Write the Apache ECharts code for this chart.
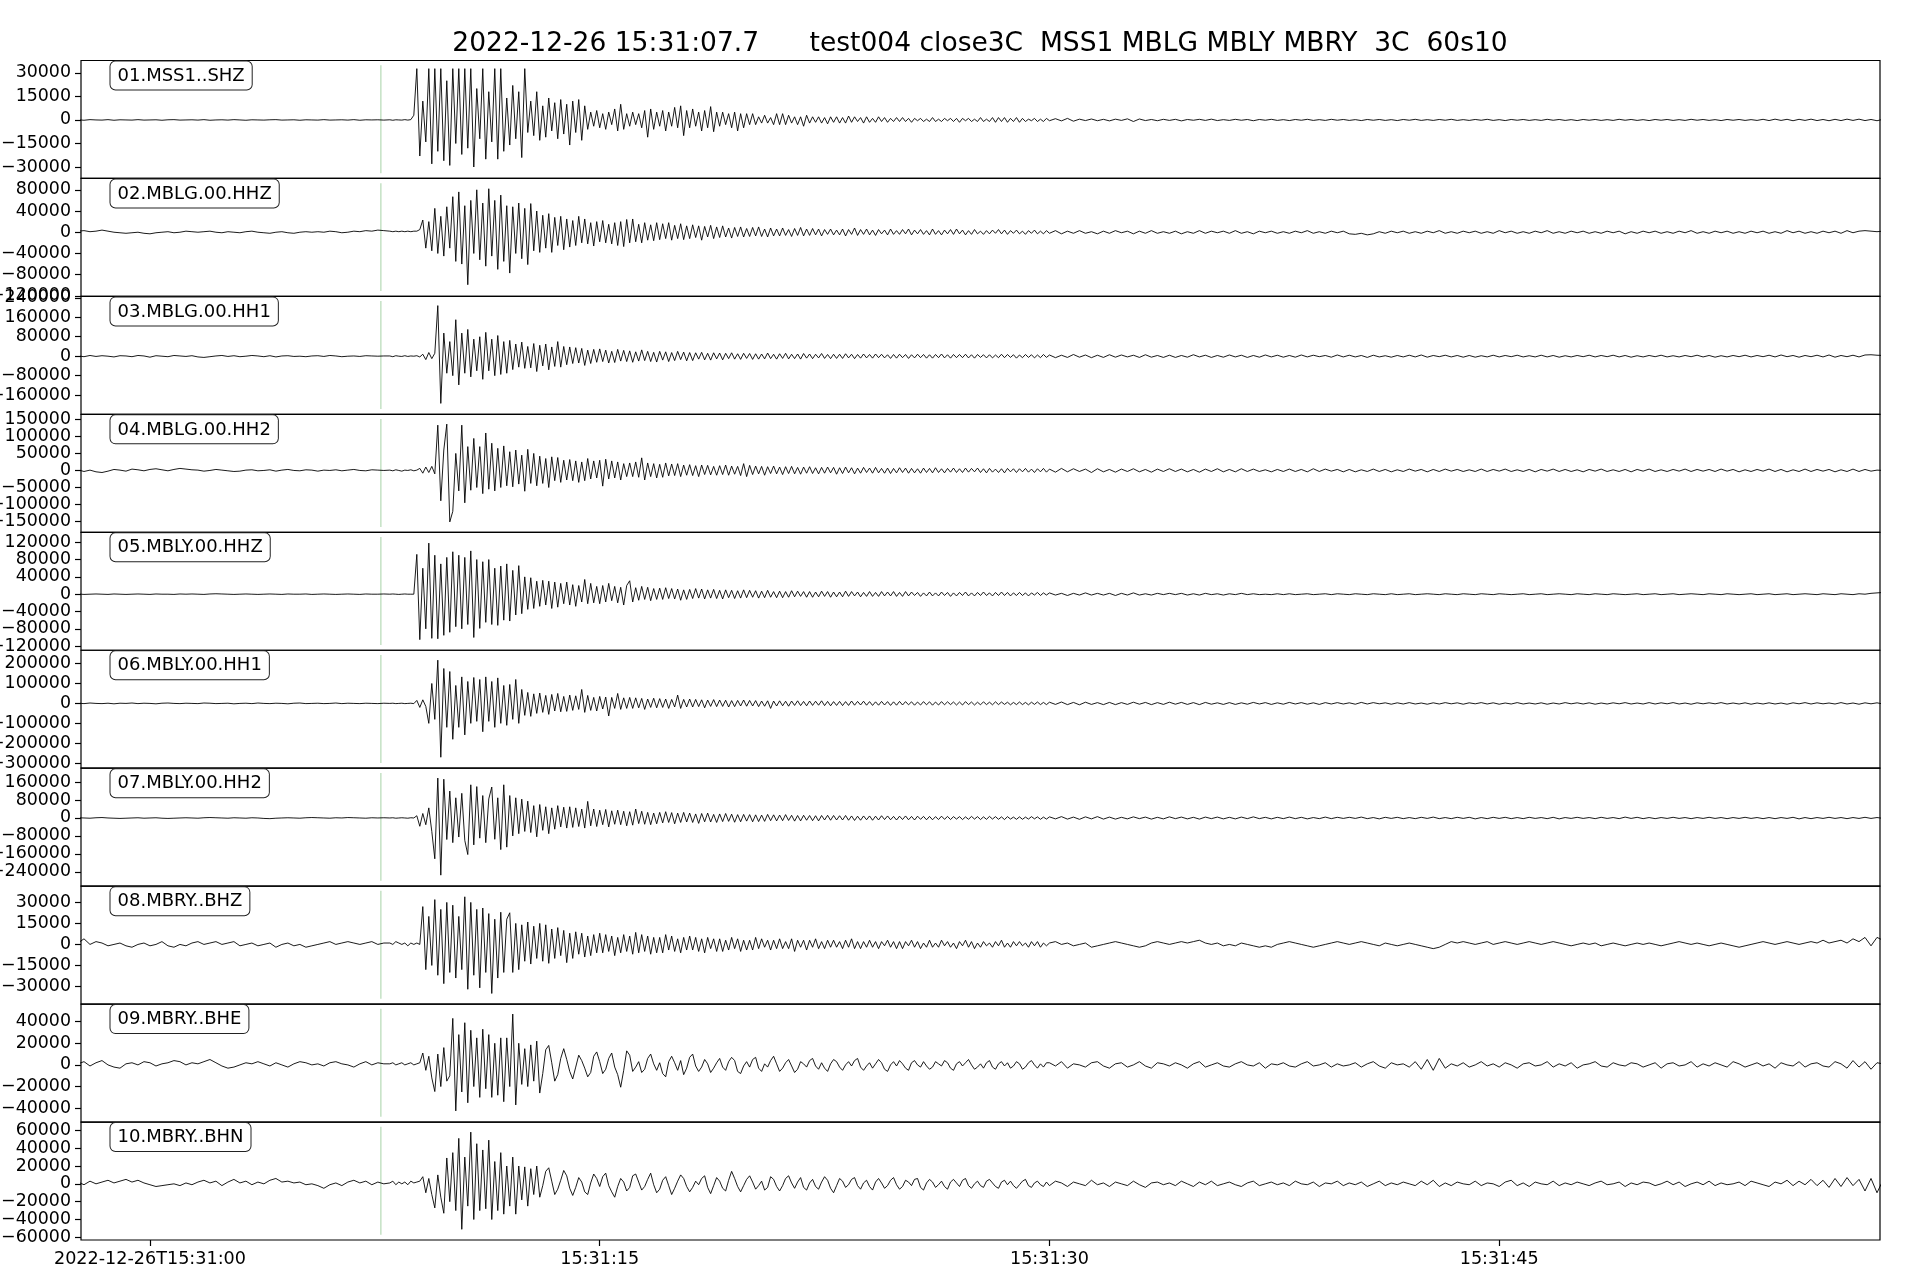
<!DOCTYPE html>
<html>
<head>
<meta charset="utf-8">
<script src="https://cdn.jsdelivr.net/npm/echarts@6/dist/echarts.min.js"></script>
<style>
html,body{margin:0;padding:0;background:#fff;}
#chart{width:1920px;height:1280px;}
</style>
</head>
<body>
<div id="chart"></div>
<script>
// ---------------- text ----------------
const titleText = '2022-12-26 15:31:07.7      test004 close3C  MSS1 MBLG MBLY MBRY  3C  60s10';
const stationLabels = ['01.MSS1..SHZ','02.MBLG.00.HHZ','03.MBLG.00.HH1','04.MBLG.00.HH2','05.MBLY.00.HHZ',
  '06.MBLY.00.HH1','07.MBLY.00.HH2','08.MBRY..BHZ','09.MBRY..BHE','10.MBRY..BHN'];
// time axis in seconds after 2022-12-26T15:31:00
const timeTickValues = [0, 15, 30, 45];
const timeTickLabels = ['2022-12-26T15:31:00', '15:31:15', '15:31:30', '15:31:45'];
const windowStart = -2.3;   // 15:30:57.7
const windowEnd = 57.7;     // 15:31:57.7
const pickTime = 7.7;       // 15:31:07.7
// amplitude axes (counts)
const yMin = [-37300, -121000, -239000, -181500, -129500, -325000, -304000, -42600, -52800, -63000];
const yMax = [37900, 101400, 245800, 164700, 143000, 266700, 222000, 41600, 56200, 69300];
const yTicks = [
  [-30000, -15000, 0, 15000, 30000],
  [-120000, -80000, -40000, 0, 40000, 80000],
  [-160000, -80000, 0, 80000, 160000, 240000],
  [-150000, -100000, -50000, 0, 50000, 100000, 150000],
  [-120000, -80000, -40000, 0, 40000, 80000, 120000],
  [-300000, -200000, -100000, 0, 100000, 200000],
  [-240000, -160000, -80000, 0, 80000, 160000],
  [-30000, -15000, 0, 15000, 30000],
  [-40000, -20000, 0, 20000, 40000],
  [-60000, -40000, -20000, 0, 20000, 40000, 60000]
];
// sampling of the read-off traces: pre-event (0.2 s), main (0.1 s), coda (0.2 s)
const preStart = -2.4, preDt = 0.2;
const mainStart = 8.0, mainDt = 0.1;
const codaStart = 30.0, codaDt = 0.2;

// ---------------- traces (values in thousands of counts) ----------------
// 01 MSS1..SHZ
const tr01Pre = [
0.1,-0.2,0.2,0,-0.1,0.2,-0.2,0.1,0,-0.1,
0.2,-0.1,0,0.1,-0.2,0.1,0.2,-0.1,0,0.1,
-0.1,0.2,-0.2,0,0.1,-0.1,0.2,0,-0.2,0.1,
0,-0.1,0.1,0.2,-0.1,0,0.1,-0.2,0.1,0,
-0.1,0.2,-0.1,0,0.1,-0.1,0.2,-0.2,0.1,0,
0.1,-0.1];
const tr01Main = [
0.1,-0.2,0.1,0,-0.1,0.2,-0.1,0.2,3,32.7,
-23,12,-14,32.7,-28,32.7,-20,32.7,-26,25,
-29,32.7,-15,32.7,-22,32.7,-18,32.7,-30,20,
-12,32.7,-25,18,-14,32.7,-25,32.7,-20,14,
-16,22,-12,18,-24,32.7,-8,12,-10,18,
-13,9,-11,14,-7,11,-12,13,-9,10,
-16,12,-8,13,-13,9,-6,5,-4,6,
-5,4,-6,5,-3,7,-7,10,-6,4,
-4,5,-3,4,-5,6,-11,7,-6,5,
-4,6,-7,5,-4,8,-5,9,-10,6,
-5,7,-4,5,-7,6,-5,8.5,-7.5,5,
-4,5,-3,4,-5,5,-7,4,-5,4,
-3,4,-3,2,-2,3,-2,1.5,-3,4,
-3,4,-3,3,-2,2,-3,2,-4,3,
-2,2,-1.5,2,-2,1.5,-2.5,2,-1.5,2,
-2,1.5,-2,2.5,-1.5,2,-1,1.5,-2,2,
-1.5,1,-1.5,2,-1,1.5,-1.5,1,-1,1.5,
-1,1.5,-1,1,-1.5,1,-0.5,1,-1,0.5,
-1,1.5,-1,0.5,-1,1,-0.5,1,-1,1,
-1.5,1,-0.5,1,-1,0.5,-1,1.5,-1,0.5,
-1,1.5,-1.5,1.5,-1,1.5,-1.5,1,-1,1.5,
-1.5,1,-1,0.5,-0.5,1,-1,0.5,-1,1];
const tr01Coda = [
-0.5,0.8,-0.6,1,-0.8,0.5,-0.4,0.6,-0.5,0.4,
-0.6,0.5,-0.3,0.7,-1,0.6,-0.4,0.3,-0.5,0.4,
-0.3,0.4,-0.6,0.3,-0.2,0.4,-0.3,0.5,-0.4,0.2,
-0.3,0.4,-0.2,0.3,-0.5,0.3,-0.2,0.4,-0.3,0.2,
-0.4,0.3,-0.2,0.4,-0.3,0.2,-0.3,0.4,-0.2,0.3,
-0.3,0.2,-0.4,0.3,-0.2,0.3,-0.3,0.2,-0.4,0.3,
-0.2,0.4,-0.3,0.2,-0.3,0.3,-0.2,0.4,-0.3,0.2,
-0.3,0.3,-0.2,0.4,-0.3,0.2,-0.4,0.3,-0.2,0.3,
-0.3,0.2,-0.3,0.4,-0.2,0.3,-0.3,0.2,-0.4,0.3,
-0.2,0.3,-0.3,0.2,-0.3,0.4,-0.2,0.3,-0.3,0.2,
-0.4,0.3,-0.2,0.3,-0.3,0.2,-0.3,0.4,-0.2,0.3,
-0.3,0.2,-0.4,0.3,-0.2,0.3,-0.3,0.2,-0.3,0.4,
-0.4,0.5,-0.3,0.4,-0.5,0.4,-0.3,0.5,-0.4,0.3,
-0.5,0.4,-0.4,0.5,-0.3,0.5,-0.4,0.3,-0.5,0.4];

// 02 MBLG.00.HHZ
const tr02Pre = [
2,3,1,2,4,2,0,-1,-2,-1,
0,-2,-3,-1,0,1,-1,0,2,1,
0,1,2,0,-1,1,0,-1,1,2,
0,-1,-2,0,1,-1,-2,0,1,0,
1,0,2,1,-1,0,2,1,3,2,
4,3];
const tr02Main = [
2,1,2,1,2,1,2,1,2,2,
5,23,-30,20,-35,45,-40,30,-45,48,
-30,67,-55,76,-60,50,-99,60,-40,80,
-52,55,-64,82,-45,60,-70,70,-55,50,
-77,48,-40,55,-50,45,-61,54,-35,40,
-38,32,-30,35,-38,28,-25,30,-33,25,
-28,22,-25,30,-20,25,-22,18,-26,20,
-18,22,-20,15,-22,18,-25,20,-27,24,
-20,25,-18,15,-20,18,-15,14,-16,18,
-14,16,-12,18,-15,13,-12,16,-14,12,
-12,14,-10,12,-15,11,-9,13,-12,10,
-10,12,-9,8,-11,9,-8,10,-9,7,
-8,9,-7,10,-8,6,-9,8,-7,6,
-7,8,-6,5,-8,7,-6,9,-7,6,
-6,7,-5,6,-7,5,-4,6,-5,4,
-5,6,-7,5,-4,8,-6,5,-4,6,
-5,4,-6,5,-3,4,-5,6,-4,3,
-4,5,-3,6,-5,4,-3,5,-4,3,
-5,6,-4,3,-5,4,-3,5,-4,6,
-3,4,-5,3,-4,5,-3,2,-4,3,
-3,4,-2,5,-3,4,-4,3,-2,4,
-3,2,-4,3,-2,4,-3,2,-3,3];
const tr02Coda = [
-2,3,-3,2,-2,3,-2,1,-3,2,
-2,3,-1,2,-3,2,-2,3,-2,1,
-2,2,-3,1,-2,3,-2,2,-1,2,
-2,3,-2,1,-3,2,-1,2,-2,1,
-2,2,-1,3,-2,1,-2,2,-1,2,
-3,-4,-2,-5,-3,1,-2,2,-1,2,
-2,1,-2,2,-1,3,-2,1,-2,2,
-1,2,-2,1,-2,3,-1,2,-2,1,
-2,2,-1,3,-2,1,-2,2,-1,2,
-2,1,-2,2,-1,2,-3,1,-2,2,
-1,2,-2,1,-2,2,-1,3,-2,1,
-2,2,-1,2,-2,1,-2,2,-1,2,
-2,1,-2,3,-1,2,-2,1,-2,2,
-1,2,-2,3,-1,2,3,2,1,2];

// 03 MBLG.00.HH1
const tr03Pre = [
1,-2,3,-1,2,0,-3,2,1,-2,
3,1,-4,2,0,-2,3,1,-1,2,
-3,-5,-2,1,3,-1,2,-2,0,3,
1,-2,2,-3,1,2,-1,0,-2,1,
2,-1,3,1,-2,0,1,-1,2,1,
0,1];
const tr03Main = [
1,-2,2,0,-1,2,-1,1,0,2,
-3,8,-14,15,-10,12,208,-194,95,-70,
60,-80,150,-118,95,-70,110,-85,70,-60,
80,-95,98,-60,70,-80,85,-75,60,-70,
65,-55,50,-45,58,-50,40,-48,52,-63,
45,-40,50,-56,38,-42,60,-45,40,-35,
38,-30,35,-28,32,-38,25,-30,28,-25,
30,-22,25,-28,20,-26,28,-20,24,-22,
22,-25,18,-20,26,-18,20,-22,16,-24,
20,-16,18,-22,15,-18,20,-14,17,-19,
15,-18,14,-12,16,-15,12,-16,14,-11,
13,-15,12,-10,14,-12,10,-13,12,-9,
11,-13,10,-12,9,-11,13,-10,8,-12,
10,-9,12,-11,8,-10,9,-12,11,-8,
9,-10,8,-7,11,-9,7,-10,8,-9,
8,-9,10,-7,8,-10,7,-8,9,-7,
7,-8,9,-6,8,-7,6,-9,7,-8,
8,-6,7,-9,6,-7,8,-6,7,-8,
6,-8,7,-6,9,-7,6,-8,7,-6,
7,-6,8,-7,6,-8,7,-5,6,-7,
6,-7,5,-6,8,-6,7,-5,6,-8,
5,-6,7,-5,6,-7,5,-6,7,-5];
const tr03Coda = [
5,-6,4,-5,7,-4,5,-6,4,-5,
6,-4,5,-3,4,-5,6,-4,3,-5,
4,-5,3,-4,6,-3,4,-5,3,-4,
5,-3,4,-5,3,-4,5,-3,4,-4,
3,-4,5,-3,4,-2,3,-4,5,-3,
4,-3,3,-5,4,-3,2,-4,3,-3,
4,-3,5,-4,3,-2,4,-3,3,-4,
3,-4,2,-3,4,-3,3,-2,4,-3,
2,-3,4,-3,3,-4,2,-3,3,-2,
4,-3,3,-2,4,-3,3,-4,2,-3,
3,-2,4,-3,2,-3,3,-2,4,-3,
3,-4,2,-3,3,-2,4,-3,3,-2,
4,-3,5,-2,3,-4,3,-2,4,-3,
5,-4,3,-2,4,-3,5,6,4,3];

// 04 MBLG.00.HH2
const tr04Pre = [
2,-3,1,-4,-6,-2,3,1,-2,4,
2,-1,3,5,2,-1,3,6,4,2,
1,-2,0,3,1,-1,-3,-2,1,2,
-1,0,2,-2,1,3,0,-1,2,1,
-2,1,0,2,-1,1,3,0,-1,2,
1,0];
const tr04Main = [
1,-1,2,0,-2,1,0,2,-1,1,
6,-8,10,-6,12,-10,133,-89,60,136,
-151,-120,50,-60,133,-95,70,-58,94,-50,
70,-68,110,-55,80,-60,65,-50,72,-45,
55,-48,60,-40,45,-61,62,-38,50,-45,
42,-38,35,-50,40,-30,38,-35,30,-28,
32,-30,28,-35,25,-30,35,-25,28,-22,
30,-46,33,-25,28,-22,25,-28,20,-18,
22,-18,25,-20,37,-28,22,-18,20,-22,
18,-20,22,-16,19,-15,20,-18,16,-14,
17,-15,14,-18,16,-12,15,-13,12,-14,
14,-12,16,-14,13,-11,12,-15,20,-18,
15,-12,13,-10,12,-14,11,-9,13,-10,
10,-12,11,-9,12,-10,9,-11,10,-8,
11,-9,8,-10,9,-8,10,-7,9,-11,
8,-9,10,-7,8,-10,7,-8,9,-6,
7,-8,9,-7,6,-8,7,-9,6,-7,
8,-6,7,-8,6,-7,5,-8,7,-6,
6,-7,8,-6,5,-7,6,-5,7,-6,
5,-6,7,-5,6,-4,7,-6,5,-7,
6,-5,4,-6,5,-7,6,-4,5,-6,
5,-4,6,-5,4,-6,5,-4,6,-5];
const tr04Coda = [
4,-5,6,-4,5,-3,4,-6,5,-4,
3,-5,4,-3,5,-4,3,-5,4,-3,
5,-3,4,-4,3,-5,4,-3,5,-4,
3,-4,5,-3,4,-3,2,-4,3,-3,
4,-3,3,-4,5,-3,4,-2,3,-4,
3,-4,2,-3,4,-3,3,-4,2,-3,
4,-2,3,-4,3,-3,4,-2,3,-3,
2,-3,4,-3,3,-2,4,-3,2,-3,
3,-4,3,-2,4,-3,3,-3,2,-4,
3,-2,4,-3,2,-3,3,-4,3,-2,
4,-3,2,-3,3,-2,4,-3,3,-2,
3,-3,4,-2,3,-4,2,-3,3,-2,
4,-3,3,-4,2,-3,4,-3,3,-2,
3,-4,2,-3,4,-3,3,-2,1,0];

// 05 MBLY.00.HHZ
const tr05Pre = [
0.5,-0.5,0,0.5,0,-0.5,0.5,0,-0.5,0,
0.5,0,-0.5,0.5,0,0,-0.5,0.5,0,0.5,
0,-0.5,0.5,1,0.5,0,-0.5,0,0.5,0,
-0.5,0,0.5,0,-0.5,0.5,0,0,0.5,-0.5,
0,0.5,0,-0.5,0,0.5,0,-0.5,0.5,0,
0,0.5];
const tr05Main = [
0,0.5,0,-0.5,0,0.5,0,0,0,92,
-105,60,-80,118,-102,90,-103,70,-95,85,
-88,98,-75,90,-80,85,-70,100,-100,80,
-79,75,-65,80,-70,60,-72,65,-60,70,
-62,55,-48,66,-45,40,-35,38,-33,30,
-28,32,-25,30,-33,28,-30,25,-22,28,
-25,22,-28,20,-18,34,-22,25,-20,18,
-22,20,-18,25,-15,18,-20,16,-25,20,
31,-18,15,-14,18,-12,16,-15,13,-12,
14,-12,15,-10,13,-11,12,-14,10,-12,
11,-10,13,-9,12,-11,10,-9,11,-10,
9,-11,10,-8,9,-10,8,-9,10,-8,
9,-7,8,-9,7,-8,9,-7,6,-8,
7,-8,6,-7,8,-6,7,-5,6,-7,
6,-7,5,-6,7,-5,6,-7,5,-6,
5,-6,7,-5,6,-4,5,-6,4,-5,
6,-5,4,-5,6,-4,5,-4,6,-5,
4,-5,6,-4,5,-3,4,-5,3,-4,
5,-4,3,-4,5,-3,4,-5,3,-4,
4,-3,5,-4,3,-4,4,-3,5,-3,
3,-4,4,-3,5,-3,4,-4,3,-3,
4,-3,3,-4,3,-2,4,-3,3,-2];
const tr05Coda = [
3,-2,2,-3,2,-2,3,-2,2,-2,
2,-3,2,-2,3,-2,1,-2,2,-1,
2,-1,2,-2,1,-2,2,-1,1,-2,
1,-1,2,-1,1,-1,0,-1,1,-1,
1,-1,0,1,-1,0,1,-1,1,0,
-1,1,0,-1,1,0,-1,1,-1,0,
1,-1,0,1,0,-1,1,0,-1,1,
0,-1,1,0,-1,1,0,-1,0,1,
-1,0,1,-1,0,1,0,-1,1,0,
-1,1,0,-1,1,0,-1,0,1,-1,
0,1,-1,0,1,-1,0,1,0,-1,
1,0,-1,1,0,-1,0,1,-1,0,
1,-1,0,1,-1,0,1,0,-1,1,
0,-1,1,0,-1,1,0,2,3,4];

// 06 MBLY.00.HH1
const tr06Pre = [
1,-1,2,0,-1,1,-2,1,0,2,
-1,1,0,-2,1,2,0,-1,1,0,
-1,2,1,-1,0,1,-2,0,1,-1,
2,0,-1,1,0,-2,1,2,-1,0,
1,-1,0,2,-1,1,0,-1,1,0,
-1,1];
const tr06Main = [
0,1,-1,0,1,-1,0,1,-1,15,
-20,18,-15,-100,100,-80,217,-270,175,-120,
160,-180,90,-120,133,-158,110,-100,130,-90,
120,-142,133,-90,110,-120,128,-100,90,-110,
95,-80,120,-100,70,-60,55,-65,48,-50,
52,-45,40,-55,45,-38,50,-42,35,-40,
42,-35,38,-30,70,-45,40,-35,30,-38,
35,-28,32,-63,30,-25,50,-30,28,-25,
30,-25,28,-22,25,-30,22,-20,26,-22,
24,-20,22,-25,20,-18,42,-25,20,-18,
22,-18,20,-16,18,-22,17,-15,19,-16,
17,-15,16,-18,14,-16,15,-13,17,-14,
15,-13,14,-16,12,-14,13,-25,12,-13,
13,-12,11,-14,12,-10,13,-11,10,-12,
12,-10,11,-9,13,-11,10,-12,9,-10,
10,-11,9,-10,12,-9,10,-8,11,-9,
9,-10,8,-9,10,-8,9,-10,8,-9,
10,-8,9,-7,8,-9,7,-8,9,-7,
8,-9,7,-8,9,-7,8,-6,7,-8,
7,-8,9,-6,7,-8,6,-7,8,-6,
6,-7,8,-6,7,-5,6,-7,5,-6,
7,-6,5,-7,6,-5,7,-6,5,-6];
const tr06Coda = [
6,-5,7,-6,5,-7,6,-5,4,-6,
5,-6,4,-5,6,-4,5,-6,4,-5,
6,-4,5,-5,4,-6,5,-4,3,-5,
4,-5,3,-4,5,-3,4,-5,3,-4,
5,-3,4,-4,3,-5,4,-3,4,-3,
3,-4,5,-3,4,-2,3,-4,3,-3,
4,-3,2,-4,3,-3,4,-2,3,-4,
3,-2,4,-3,3,-4,2,-3,4,-3,
2,-3,3,-4,2,-3,4,-2,3,-3,
3,-4,2,-3,3,-2,4,-3,2,-3,
4,-3,3,-2,4,-3,2,-4,3,-2,
3,-2,4,-3,2,-3,3,-4,2,-3,
3,-3,2,-4,3,-2,4,-3,3,-2,
2,-3,4,-3,2,-4,3,-2,3,-3];

// 07 MBLY.00.HH2
const tr07Pre = [
1,0,-1,1,2,0,-1,-2,-1,0,
1,-1,0,1,-1,-2,-1,0,1,0,
-1,1,2,1,0,-1,1,0,-1,1,
0,-2,-3,-1,0,1,0,-1,1,2,
1,0,-1,1,0,2,1,0,-1,1,
0,1];
const tr07Main = [
0,1,-1,0,1,0,-1,1,0,10,
-37,20,-30,45,-60,-182,178,-255,173,-96,
120,-110,90,-85,110,-100,-163,148,-120,140,
-90,100,-110,85,138,-95,90,-141,148,-130,
100,-80,90,-70,84,-60,75,-65,55,-84,
60,-55,50,-70,45,-50,55,-40,48,-45,
50,-42,45,-38,40,-45,74,-35,40,-38,
35,-30,38,-40,32,-28,35,-30,30,-35,
28,-32,40,-25,30,-28,25,-30,22,-26,
25,-22,28,-20,24,-26,22,-20,25,-18,
22,-20,18,-24,20,-17,22,-18,16,-20,
18,-16,20,-15,17,-19,15,-17,16,-14,
15,-17,14,-16,13,-15,16,-12,14,-13,
13,-12,15,-11,12,-14,11,-13,12,-10,
11,-12,10,-13,11,-9,12,-10,11,-9,
10,-9,11,-10,9,-11,8,-10,9,-8,
9,-10,8,-9,10,-7,9,-8,7,-9,
8,-7,9,-8,7,-9,8,-6,7,-8,
7,-8,6,-7,8,-6,7,-7,6,-5,
6,-7,5,-6,7,-5,6,-7,5,-6,
7,-5,6,-6,5,-7,6,-5,4,-6,
5,-6,4,-5,6,-4,5,-6,4,-5];
const tr07Coda = [
5,-4,6,-5,4,-6,5,-4,6,-5,
4,-5,3,-4,5,-3,4,-5,3,-4,
5,-3,4,-4,3,-5,4,-3,4,-4,
3,-4,4,-3,5,-3,3,-4,3,-3,
4,-3,3,-4,2,-3,4,-3,3,-2,
3,-2,4,-3,2,-4,3,-2,3,-3,
2,-3,3,-2,4,-3,2,-3,3,-2,
3,-4,2,-3,3,-2,3,-3,2,-3,
3,-2,2,-3,3,-4,2,-2,3,-2,
2,-3,3,-2,2,-3,4,-2,3,-3,
2,-3,2,-2,3,-2,2,-3,2,-2,
3,-2,2,-3,2,-2,3,-2,2,-3,
2,-3,2,-2,3,-4,2,-3,2,-2,
3,-2,2,-3,2,-2,3,-2,2,-2];

// 08 MBRY..BHZ
const tr08Pre = [
1,4,0,2,1,-1,0,1,-1,-2,
0,1,-1,0,2,-1,-2,0,-1,1,
2,0,1,2,0,1,2,-1,0,1,
-1,0,1,-2,0,1,-1,0,-2,-1,
0,1,2,0,1,2,1,0,1,2,
0,1];
const tr08Main = [
1,0,2,1,0,1,-1,1,0,1,
0,27,-18,20,-15,32,-22,25,-28,30,
-20,28,-24,20,-18,34,-32,30,-22,25,
-31,26,-20,22,-35,18,-24,23,-20,18,
22.6,-20,15,-18,14,-12,16,-14,13,-10,
15,-12,14,-13.5,11,-10,12,-8,10,-13,
8,-10,9,-7,8,-9,6,-8,7,-6,
8,-6,7,-5,6,-8,5,-6,7,-5,
6,-7,8.6,-6,7,-5,6,-7,5,-6,
5,-6,7,-4,6,-5,4,-6,5,-4,
6,-4,5,-5,4,-6,5,-3,4,-5,
4,-5,3,-4,5,-3,4,-5,3,-4,
3,-4,5,-3,4,-2,3,-4,3,-3,
4,-3,2,-3,4,-5,3,-2,3,-4,
3,-2,4,-3,2,-3,3,-2,3,-2,
2,-3,3,-2,4,-3,2,-3,2,-2,
3,-2,2,-3,2,-1,3,-2,2,-3,
2,-3,2,-1,3,-2,2,-3,1,-2,
3,-2,1,-2,3,-1,2,-2,1,-3,
2,-1,3,-2,2,-3,1,-2,2,-1,
1,-2,2,-1,3,-2,1,-2,2,-1,
2,-1,1,-2,2,-1,2,-2,1,-1];
const tr08Coda = [
1,2,0,1,-1,0,1,-2,-1,0,
1,2,1,0,-1,-2,-1,1,2,1,
0,1,2,1,2,3,1,0,1,-1,
0,-1,1,0,-1,-2,-1,-2,0,1,
2,1,0,-1,-2,-1,0,1,2,1,
0,1,2,1,0,-1,1,0,-1,0,
1,0,-1,-2,-3,-2,0,2,1,2,
1,0,1,2,0,1,2,1,0,1,
2,1,0,1,2,1,0,-1,0,1,
0,1,-1,0,1,0,-1,0,1,0,
1,0,-1,0,1,2,1,0,1,0,
-1,0,1,0,-1,-2,-1,0,1,2,
1,0,1,2,1,0,1,2,1,3,
1,2,3,1,4,2,5,-1,5,3];

// 09 MBRY..BHE
const tr09Pre = [
1,3,-1,2,4,0,-2,-3,1,2,
0,3,2,-1,1,2,4,3,0,2,
1,3,5,2,-1,-3,-2,0,2,1,
3,1,-1,2,0,-2,1,3,2,0,
1,-1,2,3,1,0,-2,1,3,0,
2,1];
const tr09Main = [
1,2,0,1,2,0,1,2,0,1,
2,11,-5,8,-12,-24.6,10,-20,16,-15,
-10,43,-42.5,28,-25,39,-35,32,-20,25,
-30,33,-22,28,-30,20,-28,25,-34,25,
-20,47,-37,20,-18,15,-20,18.5,-15,22,
-26,-8,14,18,2,-15,-9,6,15,5,
-6,-13,-2,9,4,-3,-11,-7,8,12,
3,-8,-4,6,11,-2,-9,-20.6,-5,13,
9,-6,-2,3,-7,-4,6,10,1,-5,
2,-8,-11,3,8,2,-5,4,-9,-3,
7,10,-1,-6,-2,5,1,-7,-3,2,
6,-2,-5,3,7,4,-6,-8,-1,3,
-2,5,7,-3,-6,1,-2,4,8,1,
-6,-3,2,5,-1,-7,-4,3,1,-2,
4,6,-1,-4,2,-3,-6,1,5,3,
-2,-5,0,3,-1,4,6,-2,-5,-1,
2,-3,1,5,2,-4,-6,0,3,-1,
4,1,-3,-5,2,4,0,-2,3,-1,
-4,-2,3,1,-1,4,2,-3,-5,1,
3,-1,2,5,0,-4,-2,1,-3,2,
4,-2,-4,1,3,-1,2,-3,-1,3,
1,-4,-2,2,4,0,-3,1,-2,2];
const tr09Coda = [
2,-1,3,-3,1,0,-2,2,3,-1,
-3,1,2,-2,0,3,-1,-3,2,1,
-1,2,0,-3,1,3,-2,0,2,-1,
-2,1,3,0,-1,2,-3,1,0,2,
-1,-2,1,3,-1,0,2,-2,1,-1,
0,2,-2,1,3,-1,-3,2,0,1,
-2,3,-4,5,-5,6,-3,1,-1,2,
-2,0,3,-1,1,-2,2,0,-3,1,
2,-1,0,3,-2,1,-1,2,-3,0,
1,3,-1,-2,2,0,-1,2,1,-2,
0,2,-3,1,2,-1,0,3,-2,1,
-1,2,0,-2,3,1,-2,0,2,-1,
1,-3,2,0,-1,3,-2,1,2,-1,
-2,3,1,-3,4,-2,3,-4,2,1];

// 10 MBRY..BHN
const tr10Pre = [
2,-1,3,0,2,4,1,3,5,2,
4,1,-1,-3,-2,-1,0,-2,1,-1,
2,4,1,3,-2,2,5,1,3,-1,
2,0,4,6,2,3,1,2,-1,0,
-2,-5,-1,1,-2,2,4,1,3,-1,
2,0];
const tr10Main = [
1,3,-1,2,0,2,-1,3,1,2,
3,8,-10,6,-12,-27,10,-15,-33,29,
-20,35,-30,51,-51,30,-25,58,-40,45,
-30,38,-28,49,-40,25,-30,35,-34,20,
-25,30,-34,20,-18,19,-25,17,-12,20,
-15,-2,14,18,3,-12,-6,4,15,9,
-5,-13,-4,7,2,-9,-12,1,11,6,
-3,8,12,-2,-9,-15,-3,6,2,-8,
-4,9,11,2,-7,-3,5,12,-1,-10,
-6,4,8,-2,-12,-5,3,10,6,-3,
-9,-4,3,-1,6,9,-4,-11,-2,7,
3,-5,-8,4,14,6,-3,-9,-2,5,
9,2,-6,-2,3,-7,-4,8,5,-3,
-8,-2,6,9,1,-5,2,7,-4,-7,
1,5,-3,-6,2,8,4,-5,-10,-2,
6,3,-4,-1,5,7,-2,-6,1,4,
-3,-7,2,6,1,-5,-2,4,7,-1,
-6,-3,4,2,-2,5,6,-4,-7,1,
5,2,-4,-1,3,-3,-6,2,5,1,
-3,4,6,-2,-5,0,3,-2,-4,3,
5,1,-3,-5,2,4,-1,3,-2,-5,
-1,3,5,-2,-4,1,3,-1,-3,2];
const tr10Coda = [
-2,3,1,-3,2,0,-2,4,-1,1,
-3,2,0,-2,3,-1,-4,1,2,-1,
1,-2,3,0,-3,2,-1,3,-2,0,
2,-1,-3,1,3,-2,0,2,-1,1,
-2,3,0,-1,2,-3,1,0,3,-2,
1,-1,2,-3,0,3,-2,1,-1,2,
0,-2,3,-1,4,-3,1,-2,2,0,
-1,3,-2,1,0,-3,2,4,-2,1,
-3,2,0,-1,3,-2,1,-1,2,0,
-2,1,3,-1,0,2,-3,1,-1,2,
1,-2,0,3,-1,2,-3,0,2,-1,
3,-2,1,-1,0,2,-2,3,1,-1,
-3,2,0,4,-2,3,-1,5,-2,4,
-4,6,-3,7,-2,5,-8,6,-10,4];

const traceParts = [
  [tr01Pre, tr01Main, tr01Coda], [tr02Pre, tr02Main, tr02Coda], [tr03Pre, tr03Main, tr03Coda],
  [tr04Pre, tr04Main, tr04Coda], [tr05Pre, tr05Main, tr05Coda], [tr06Pre, tr06Main, tr06Coda],
  [tr07Pre, tr07Main, tr07Coda], [tr08Pre, tr08Main, tr08Coda], [tr09Pre, tr09Main, tr09Coda],
  [tr10Pre, tr10Main, tr10Coda]
];

function buildTrace(pre, main, coda) {
  const pts = [];
  pre.forEach((v, i) => { const t = +(preStart + i * preDt).toFixed(3); if (t < mainStart) pts.push([t, v * 1000]); });
  main.forEach((v, i) => { const t = +(mainStart + i * mainDt).toFixed(3); if (t < codaStart) pts.push([t, v * 1000]); });
  coda.forEach((v, i) => { const t = +(codaStart + i * codaDt).toFixed(3); pts.push([t, v * 1000]); });
  return pts;
}

// ---------------- layout ----------------
const FONT = 'DejaVu Sans';
const gridLeft = 81, gridRight = 40, firstTop = 60.5, panelH = 117.95;
const nPanels = stationLabels.length;

const grids = [], xAxes = [], yAxes = [], series = [], graphics = [];
const fmtY = v => (v < 0 ? '\u2212' + String(-v) : String(v));

for (let i = 0; i < nPanels; i++) {
  const top = firstTop + i * panelH;
  grids.push({ left: gridLeft, right: gridRight, top: top, height: panelH, show: true,
    borderColor: '#000', borderWidth: 1.2, backgroundColor: 'transparent',
    containLabel: false, outerBoundsMode: 'none' });
  const last = i === nPanels - 1;
  xAxes.push({
    gridIndex: i, type: 'value', min: windowStart, max: windowEnd, position: 'bottom',
    splitLine: { show: false }, axisLine: { show: false, onZero: false },
    axisTick: { show: last, length: 6, customValues: timeTickValues, lineStyle: { color: '#000', width: 1.2 } },
    axisLabel: { show: last, customValues: timeTickValues, margin: 10, fontSize: 17.6, color: '#000', fontFamily: FONT,
      hideOverlap: false, showMinLabel: true, showMaxLabel: true,
      formatter: v => { const k = timeTickValues.indexOf(Math.round(v)); return k >= 0 ? timeTickLabels[k] : ''; } }
  });
  yAxes.push({
    gridIndex: i, type: 'value', min: yMin[i], max: yMax[i], position: 'left',
    splitLine: { show: false }, axisLine: { show: false, onZero: false },
    axisTick: { show: true, length: 6, customValues: yTicks[i], lineStyle: { color: '#000', width: 1.2 } },
    axisLabel: { customValues: yTicks[i], margin: 10, fontSize: 17.4, color: '#000', fontFamily: FONT,
      hideOverlap: false, showMinLabel: true, showMaxLabel: true, formatter: fmtY }
  });
  const span = yMax[i] - yMin[i];
  series.push({
    type: 'line', xAxisIndex: i, yAxisIndex: i, silent: true, animation: false, z: 1,
    symbol: 'none', data: [[pickTime, yMin[i] + 0.045 * span], [pickTime, yMax[i] - 0.04 * span]],
    lineStyle: { color: 'rgba(0,128,0,0.22)', width: 1.6 }
  });
  const p = traceParts[i];
  series.push({
    type: 'line', xAxisIndex: i, yAxisIndex: i, silent: true, animation: false, z: 2,
    symbol: 'none', showSymbol: false, clip: true, data: buildTrace(p[0], p[1], p[2]),
    lineStyle: { color: '#000', width: 0.9 }
  });
  graphics.push({
    type: 'text', x: 110.5, y: top + 1, z: 100, silent: true,
    style: { text: stationLabels[i], font: '18px "' + FONT + '"', fill: '#000', align: 'left', verticalAlign: 'top',
      backgroundColor: '#fff', borderColor: '#222', borderWidth: 1, borderRadius: 5, padding: [5, 7, 4, 7], lineHeight: 19 }
  });
}
graphics.push({
  type: 'text', x: 980, y: 44, z: 100, silent: true,
  style: { text: titleText, font: '26.5px "' + FONT + '"', fill: '#000', align: 'center', verticalAlign: 'middle' }
});

const chart = echarts.init(document.getElementById('chart'), null, { renderer: 'canvas', width: 1920, height: 1280 });
chart.setOption({
  backgroundColor: '#fff',
  animation: false,
  grid: grids, xAxis: xAxes, yAxis: yAxes, series: series, graphic: graphics
});
</script>
</body>
</html>
